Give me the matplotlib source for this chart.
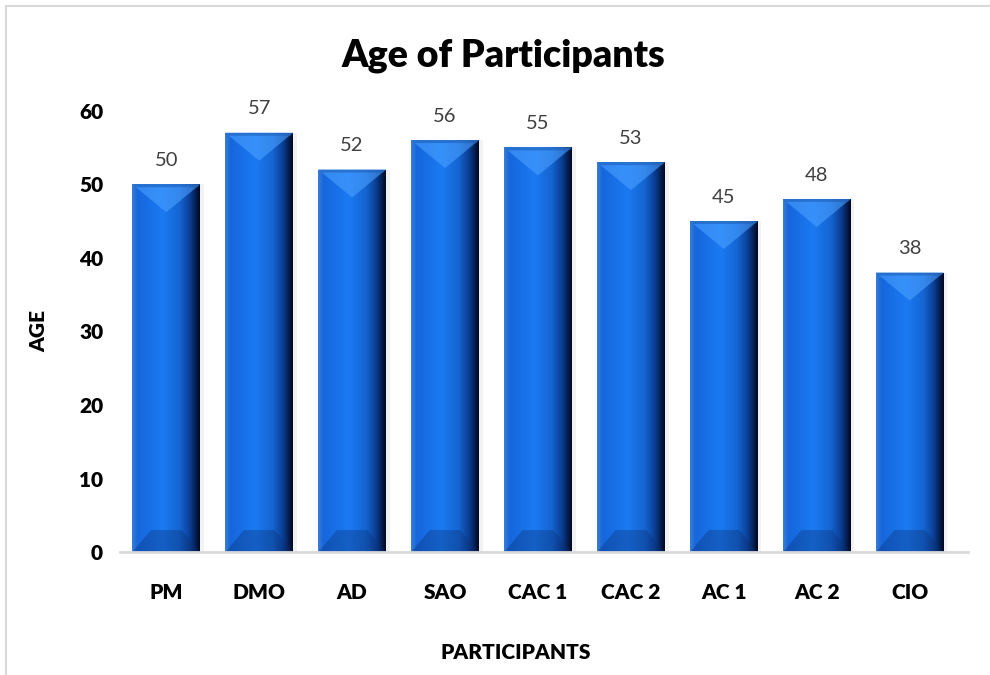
import numpy as np
import matplotlib.pyplot as plt
from matplotlib.colors import LinearSegmentedColormap
from matplotlib.patches import Polygon, Rectangle

plt.rcParams['font.family'] = ['Lato', 'DejaVu Sans']

participants = ['PM', 'DMO', 'AD', 'SAO', 'CAC 1', 'CAC 2', 'AC 1', 'AC 2', 'CIO']
ages = [50, 57, 52, 56, 55, 53, 45, 48, 38]
yticks = [0, 10, 20, 30, 40, 50, 60]

fig = plt.figure(figsize=(9.9, 6.75), dpi=100)
ax = fig.add_axes([0.121, 0.182, 0.857, 0.654])

x = np.arange(len(participants))
w = 0.73

# horizontal gradient for the bevelled bars
cmap = LinearSegmentedColormap.from_list('bev', [
    (0.0, '#3a7fd6'), (0.08, '#1666dc'), (0.45, '#1b7af2'),
    (0.7, '#1565d2'), (0.85, '#0b3f96'), (0.95, '#041a48'), (1.0, '#01081c')])
grad = np.linspace(0, 1, 256).reshape(1, -1)

# soft shadow to the right
ax.bar(x + 0.04, ages, width=w, color='#f2f2f2', zorder=1)
bars = ax.bar(x, ages, width=w, color='#1a6ee6', zorder=2)

for b, h in zip(bars, ages):
    x0 = b.get_x()
    x1 = x0 + b.get_width()
    im = ax.imshow(grad, cmap=cmap, aspect='auto', extent=(x0, x1, 0, h),
                   zorder=3, interpolation='bicubic')
    im.set_clip_path(b)
    xc = (x0 + x1) / 2
    # top bevel (lighter triangle)
    ax.add_patch(Polygon([(x0, h), (x1, h), (xc, h - 3.8)], closed=True,
                         facecolor='#4aa0ff', alpha=0.6, edgecolor='none', zorder=4))
    ax.add_patch(Polygon([(x0, h), (x1, h), (x1 - 0.03, h - 0.4), (x0 + 0.03, h - 0.4)],
                         closed=True, facecolor='#1e5fb8', alpha=0.6, edgecolor='none', zorder=4))
    # bottom bevel (darker trapezoid)
    ax.add_patch(Polygon([(x0, 0), (x1, 0), (x1 - 0.2, 3.0), (x0 + 0.2, 3.0)], closed=True,
                         facecolor='#0a2f70', alpha=0.35, edgecolor='none', zorder=4))
    ax.annotate(str(h), (xc, h), xytext=(0, 11), textcoords='offset points',
                ha='center', va='bottom', fontsize=14.5, color='#404040')

ax.set_xlim(-0.5, 8.63)
ax.set_ylim(0, 60)
ax.set_yticks(yticks)
ax.set_yticklabels([str(t) for t in yticks], fontsize=15, fontweight='heavy')
ax.set_xticks(x)
ax.set_xticklabels(participants, fontsize=15, fontweight='heavy')
ax.tick_params(axis='both', length=0)
ax.tick_params(axis='x', pad=22)
ax.tick_params(axis='y', pad=12)

for s in ['top', 'right', 'left']:
    ax.spines[s].set_visible(False)
ax.spines['bottom'].set_color('#d9d9d9')
ax.spines['bottom'].set_linewidth(2)
ax.spines['bottom'].set_zorder(5)

ax.set_ylabel('AGE', fontsize=15, fontweight='heavy', labelpad=22)
fig.text(0.521, 0.034, 'PARTICIPANTS', ha='center', va='center', fontsize=15, fontweight='heavy')
fig.text(0.508, 0.917, 'Age of Participants', ha='center', va='center', fontsize=27, fontweight='heavy')

# light frame around the chart
fig.patches.append(Rectangle((0.006, -0.05), 1.2, 1.041, transform=fig.transFigure,
                             fill=False, edgecolor='#d9d9d9', linewidth=1.5))

fig.savefig('out.png', dpi=100)
